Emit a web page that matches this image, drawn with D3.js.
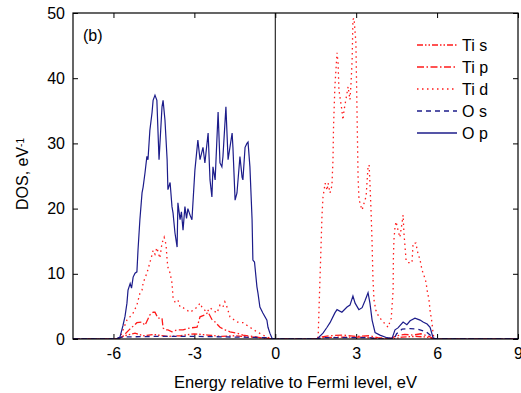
<!DOCTYPE html>
<html>
<head>
<meta charset="utf-8">
<script src="https://cdn.jsdelivr.net/npm/d3@7"></script>
<style>
  body { margin: 0; background: #fff; }
  text { font-family: Arial, "Liberation Sans", sans-serif; fill: #000; }
</style>
</head>
<body>
<svg class="dos" width="521" height="393"></svg>
<script>
// energy (eV) , DOS (1/eV) pairs
var tiS = [[-7.5,0],[-5.9,0],[-5.7,0.3],[-5.5,0.6],[-5.2,0.9],[-4.9,0.5],[-4.5,0.7],[-4.0,0.4],[-3.5,0.5],
  [-3.0,0.8],[-2.5,0.6],[-2.0,0.4],[-1.5,0.5],[-1.0,0.3],[-0.5,0.2],[-0.1,0],[1.5,0],[1.8,0.2],[2.5,0.3],
  [3.2,0.3],[3.7,0.1],[4.4,0],[4.7,0.3],[5.2,0.4],[5.6,0.3],[5.9,0],[9,0]];

var tiP = [[-7.5,0],[-5.9,0],[-5.68,0.3],[-5.42,1.4],[-5.13,2.5],[-4.94,2.6],[-4.83,2.1],[-4.65,3.7],[-4.53,4.1],
  [-4.46,4.1],[-4.35,3.2],[-4.2,3.2],[-4.16,1.7],[-4.09,1.4],[-3.98,1.4],[-3.83,1.1],[-3.64,1.4],[-3.42,1.4],
  [-3.16,1.7],[-2.9,1.8],[-2.79,3.4],[-2.61,3.7],[-2.49,4.1],[-2.35,3.0],[-2.23,2.6],[-2.05,1.8],[-1.86,1.4],
  [-1.68,1.1],[-1.42,0.9],[-1.2,0.6],[-0.68,0.3],[-0.31,0],[1.5,0],[1.7,0.3],[2.0,0.5],[2.5,0.6],[3.0,0.4],
  [3.5,0.5],[3.8,0.2],[4.3,0.1],[4.5,0.5],[4.8,0.7],[5.1,0.6],[5.4,0.8],[5.7,0.4],[5.9,0],[9,0]];

var tiD = [[-7.5,0],[-5.9,0],[-5.76,0.2],[-5.5,2.9],[-5.39,3.4],[-5.28,3.9],[-5.13,5.2],[-5.02,7],[-4.94,7.5],
  [-4.9,8.6],[-4.76,10.1],[-4.65,11.7],[-4.57,12.9],[-4.53,13.6],[-4.46,13],[-4.39,14],[-4.28,12.4],
  [-4.2,14.7],[-4.12,15.6],[-4.05,14.5],[-4.01,12.1],[-3.98,11],[-3.9,10.1],[-3.83,8.6],[-3.79,6.4],
  [-3.72,5.7],[-3.61,6],[-3.53,4.9],[-3.42,4.8],[-3.27,4.4],[-3.16,4.1],[-3.05,4.4],[-2.9,4.9],[-2.79,5.5],
  [-2.72,4.9],[-2.61,4.4],[-2.53,4.1],[-2.42,4.8],[-2.31,4.4],[-2.16,4],[-2.05,5.2],[-1.94,4.9],[-1.87,5.7],
  [-1.79,4.9],[-1.68,3.4],[-1.42,2.6],[-1.2,2.5],[-0.94,1.8],[-0.68,1.1],[-0.46,0.6],[-0.2,0.1],[0,0],
  [1.5,0],[1.59,0.3],[1.62,4.4],[1.66,9.5],[1.7,14.7],[1.73,18.7],[1.77,21.8],[1.85,23.9],[1.92,22.8],
  [1.96,23.9],[2.03,22.4],[2.1,23.5],[2.14,27.5],[2.16,32.5],[2.21,38.7],[2.29,43.9],[2.33,42.3],[2.36,38.2],
  [2.47,35.1],[2.51,33.6],[2.55,35.1],[2.66,37.7],[2.7,38.7],[2.77,36.7],[2.81,39.3],[2.85,42.8],[2.88,49],
  [2.92,49.2],[2.99,45.4],[3.03,35.1],[3.07,24.8],[3.1,21.8],[3.14,20.8],[3.22,19.8],[3.29,20.8],[3.33,21.3],
  [3.37,22],[3.4,23.9],[3.44,26.4],[3.48,26.7],[3.51,23.9],[3.55,19.8],[3.59,14.7],[3.62,9.5],[3.66,6],
  [3.73,4.4],[3.84,3.4],[4.03,2.5],[4.18,1.8],[4.3,3.2],[4.37,7.5],[4.38,12.6],[4.4,15.2],[4.44,17.2],
  [4.48,18],[4.55,16.7],[4.62,15.6],[4.7,17.8],[4.74,19],[4.77,16.3],[4.85,12.1],[4.92,11.7],[5.07,11.7],
  [5.11,14.7],[5.22,14.7],[5.26,13.6],[5.37,12.1],[5.44,10.6],[5.51,9.8],[5.59,8.7],[5.63,7.5],[5.7,6],
  [5.74,4.4],[5.81,2.5],[5.85,0.9],[5.89,0],[9,0]];

var oS = [[-7.5,0],[-5.9,0],[-5.7,0.3],[-4.5,0.4],[-3.0,0.4],[-1.5,0.3],[-0.3,0.2],[-0.1,0],[1.5,0],
  [1.8,0.2],[3.5,0.2],[3.8,0],[4.4,0],[4.5,0.8],[4.7,1.5],[5.0,1.6],[5.3,1.5],[5.6,1.1],[5.8,0.4],[5.9,0],[9,0]];

var oP = [[-7.5,0],[-5.9,0],[-5.76,0.3],[-5.65,2],[-5.57,3.5],[-5.5,5.5],[-5.46,7.5],[-5.38,8.5],[-5.33,7.8],
  [-5.27,9.5],[-5.2,10.1],[-5.13,10.3],[-5.09,13.6],[-5.02,18.3],[-4.94,22.4],[-4.9,23.3],[-4.83,25.5],
  [-4.76,28],[-4.72,27.5],[-4.65,32],[-4.57,34.7],[-4.53,36.6],[-4.46,37.4],[-4.39,36.6],[-4.35,32],
  [-4.31,27.5],[-4.2,35.6],[-4.16,36.6],[-4.09,33.6],[-4.01,27.5],[-3.98,22.9],[-3.9,24],[-3.83,20.3],
  [-3.79,19.3],[-3.72,16.3],[-3.64,14.1],[-3.61,20.9],[-3.53,18.3],[-3.48,19.5],[-3.42,16.7],[-3.35,20.3],
  [-3.29,18.5],[-3.24,20],[-3.16,19],[-3.09,18.3],[-2.98,25.9],[-2.87,30.5],[-2.79,27.5],[-2.68,29.4],
  [-2.61,27],[-2.49,31.6],[-2.42,24.4],[-2.35,21.8],[-2.31,26.4],[-2.23,24.4],[-2.12,34.8],[-2.05,27],
  [-1.98,26.4],[-1.94,28],[-1.83,35.6],[-1.75,27.5],[-1.6,31.6],[-1.57,29.4],[-1.49,21.3],[-1.42,22.4],
  [-1.31,28],[-1.23,24.8],[-1.2,24.4],[-1.12,29.4],[-1.05,30],[-1.01,30.2],[-0.94,26.4],[-0.86,18.3],
  [-0.83,12.1],[-0.77,11.8],[-0.68,8],[-0.64,7],[-0.57,4.9],[-0.46,4],[-0.31,2.9],[-0.27,1.8],[-0.2,0.9],
  [-0.12,0.1],[0,0],[1.55,0],[1.77,0.9],[1.92,1.8],[2.03,2.5],[2.21,4.0],[2.29,4.5],[2.47,4.1],[2.66,4.9],
  [2.77,5.2],[2.88,6.6],[2.96,5.5],[3.1,4.5],[3.22,4.8],[3.33,5.9],[3.44,7.1],[3.51,5.5],[3.59,2.9],
  [3.7,1.0],[3.88,0.6],[4.14,0.2],[4.33,0.1],[4.44,1.4],[4.55,1.7],[4.74,2.6],[4.88,2.2],[5.0,2.8],
  [5.18,3.2],[5.37,2.9],[5.48,2.6],[5.63,2.3],[5.74,1.8],[5.85,0.2],[5.96,0],[9,0]];

var seriesNames = ["Ti s", "Ti p", "Ti d", "O s", "O p"];
var xTicks = [-6, -3, 0, 3, 6, 9];
var yTicks = [0, 10, 20, 30, 40, 50];

var red = "#ff1a1a", navy = "#1c1c8a";
var series = [
  {name: seriesNames[0], data: tiS, color: red, dash: "6,2,1.5,2,1.5,2"},
  {name: seriesNames[1], data: tiP, color: red, dash: "7,2.5,1.5,2.5"},
  {name: seriesNames[2], data: tiD, color: red, dash: "1.5,3.5"},
  {name: seriesNames[3], data: oS, color: navy, dash: "5,4"},
  {name: seriesNames[4], data: oP, color: navy, dash: null}
];

var svg = d3.select(".dos"),
  margin = {top: 13, right: 3, bottom: 54, left: 73},
  width = +svg.attr("width") - margin.left - margin.right,
  height = +svg.attr("height") - margin.top - margin.bottom,
  main = svg.append("g").attr("transform", "translate(" + margin.left + "," + margin.top + ")");

var x = d3.scaleLinear().domain([-7.5, 9]).range([0, width]);
var y = d3.scaleLinear().domain([0, 50]).range([height, 0]);

main.append("clipPath").attr("id", "clip")
  .append("rect").attr("width", width).attr("height", height);

// axes, ticks pointing inward; plain hyphen for negatives like the original
var fmt = function(d) { return String(d); };
function styleAxis(g) {
  g.select(".domain").remove();
  g.selectAll("line").attr("stroke", "#000");
  g.selectAll("text").style("font-size", "16px").attr("fill", "#000");
}
main.append("g").call(d3.axisLeft(y).tickValues(yTicks).tickFormat(fmt).tickSize(-5).tickPadding(8)).call(styleAxis);
main.append("g").attr("transform", "translate(" + width + ",0)")
  .call(d3.axisRight(y).tickValues(yTicks).tickFormat("").tickSize(-5)).call(styleAxis);
main.append("g").attr("transform", "translate(0," + height + ")")
  .call(d3.axisBottom(x).tickValues(xTicks).tickFormat(fmt).tickSize(-5).tickPadding(9)).call(styleAxis);
main.append("g")
  .call(d3.axisTop(x).tickValues(xTicks).tickFormat("").tickSize(-5)).call(styleAxis);

// lines
var line = d3.line()
  .x(function(d) { return x(d[0]); })
  .y(function(d) { return y(d[1]); });

var plot = main.append("g").attr("clip-path", "url(#clip)");
series.forEach(function(s) {
  plot.append("path")
    .datum(s.data)
    .attr("fill", "none")
    .attr("stroke", s.color)
    .attr("stroke-width", s.dash ? 1.3 : 1.2)
    .attr("stroke-dasharray", s.dash)
    .attr("d", line);
});

// fermi level + frame
main.append("line")
  .attr("x1", x(0)).attr("x2", x(0)).attr("y1", 0).attr("y2", height)
  .attr("stroke", "#000").attr("stroke-width", 1);
main.append("rect")
  .attr("width", width).attr("height", height)
  .attr("fill", "none").attr("stroke", "#000").attr("stroke-width", 1.2);

main.append("text").attr("x", 10).attr("y", 28).style("font-size", "16px").text("(b)");

// legend
var legend = main.append("g").attr("transform", "translate(344,32)");
series.forEach(function(s, i) {
  var row = legend.append("g").attr("transform", "translate(0," + (i * 22) + ")");
  row.append("line").attr("x1", 0).attr("x2", 40).attr("y1", 0).attr("y2", 0)
    .attr("stroke", s.color).attr("stroke-width", 1.3).attr("stroke-dasharray", s.dash);
  row.append("text").attr("x", 45).attr("y", 0).attr("dy", "0.36em")
    .style("font-size", "16px").text(s.name);
});

// axis titles
svg.append("text")
  .attr("x", margin.left + width / 2).attr("y", 388)
  .attr("text-anchor", "middle").style("font-size", "16.5px")
  .text("Energy relative to Fermi level, eV");

var ylab = svg.append("text")
  .attr("transform", "translate(28,174) rotate(-90)")
  .attr("text-anchor", "middle").style("font-size", "16px");
ylab.append("tspan").text("DOS, eV");
ylab.append("tspan").attr("dy", "-0.45em").style("font-size", "10px").text("-1");
</script>
</body>
</html>
